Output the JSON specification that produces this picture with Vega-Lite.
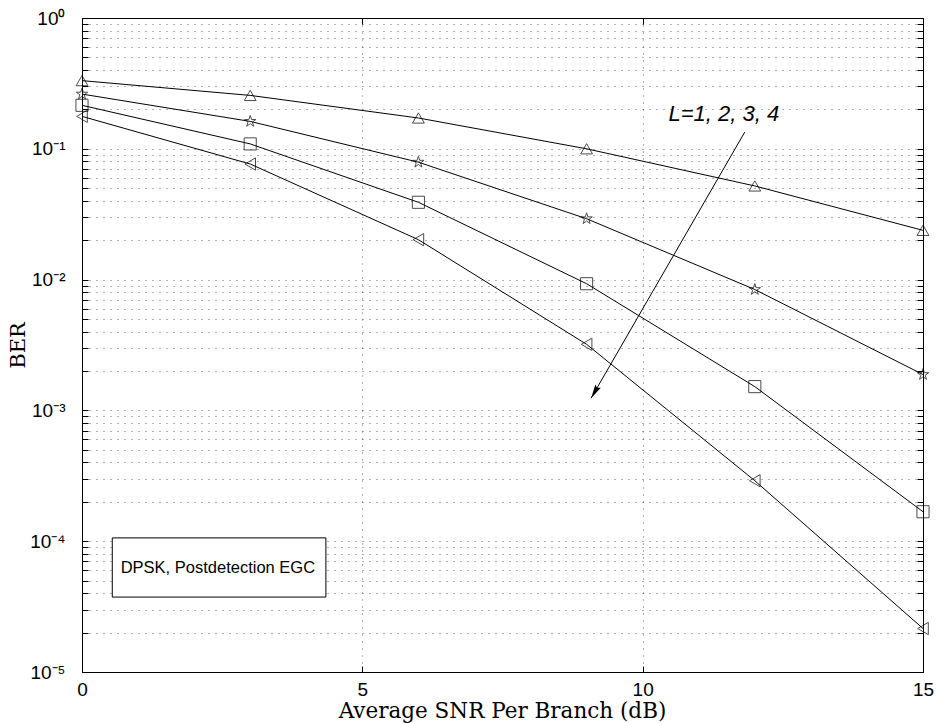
{
  "$schema": "https://vega.github.io/schema/vega-lite/v6.json",
  "width": 841,
  "height": 654,
  "autosize": {"type": "none"},
  "padding": {"left": 82, "top": 18, "right": 14, "bottom": 51},
  "background": "white",
  "config": {
    "view": {"stroke": "black", "strokeWidth": 1},
    "axis": {
      "domain": false,
      "labelFont": "Liberation Sans",
      "labelFontSize": 19,
      "labelColor": "black",
      "titleFont": "DejaVu Serif",
      "titleFontSize": 21,
      "titleFontWeight": "normal",
      "titleColor": "black",
      "tickColor": "black",
      "tickSize": -6,
      "labelFlush": false,
      "labelOverlap": false,
      "gridColor": "#000000",
      "gridOpacity": 0.6,
      "gridDash": [1, 6],
      "gridWidth": 1
    }
  },
  "datasets": {
    "ber": [
      {"L": "1", "snr": 0, "ber": 0.332},
      {"L": "1", "snr": 3, "ber": 0.256},
      {"L": "1", "snr": 6, "ber": 0.172},
      {"L": "1", "snr": 9, "ber": 0.100},
      {"L": "1", "snr": 12, "ber": 0.052},
      {"L": "1", "snr": 15, "ber": 0.0238},
      {"L": "2", "snr": 0, "ber": 0.262},
      {"L": "2", "snr": 3, "ber": 0.162},
      {"L": "2", "snr": 6, "ber": 0.079},
      {"L": "2", "snr": 9, "ber": 0.0292},
      {"L": "2", "snr": 12, "ber": 0.0084},
      {"L": "2", "snr": 15, "ber": 0.00188},
      {"L": "3", "snr": 0, "ber": 0.215},
      {"L": "3", "snr": 3, "ber": 0.109},
      {"L": "3", "snr": 6, "ber": 0.039},
      {"L": "3", "snr": 9, "ber": 0.0093},
      {"L": "3", "snr": 12, "ber": 0.00152},
      {"L": "3", "snr": 15, "ber": 0.000168},
      {"L": "4", "snr": 0, "ber": 0.177},
      {"L": "4", "snr": 3, "ber": 0.0765},
      {"L": "4", "snr": 6, "ber": 0.0202},
      {"L": "4", "snr": 9, "ber": 0.0032},
      {"L": "4", "snr": 12, "ber": 0.00029},
      {"L": "4", "snr": 15, "ber": 0.0000215}
    ],
    "arrow": [{"x": 11.82, "y": 0.134, "x2": 9.08, "y2": 0.00124}],
    "tip": [{"x": 9.08, "y": 0.00124}],
    "box": [{"x": 0.54, "x2": 4.35, "y": 0.000106, "y2": 0.0000374}],
    "boxtext": [{"x": 0.69, "y": 0.0000629, "text": "DPSK, Postdetection EGC"}],
    "ltext": [{"x": 10.46, "y": 0.163, "text": "L=1, 2, 3, 4"}]
  },
  "layer": [
    {
      "data": {"name": "ber"},
      "mark": {"type": "line", "color": "black", "strokeWidth": 1},
      "encoding": {
        "x": {
          "field": "snr", "type": "quantitative",
          "scale": {"domain": [0, 15], "nice": false, "zero": false},
          "axis": {
            "orient": "bottom",
            "values": [0, 5, 10, 15],
            "grid": true,
            "labelPadding": 14,
            "title": "Average SNR Per Branch (dB)",
            "titleFontSize": 21.5,
            "titleX": 420,
            "titleY": 45,
            "titleAlign": "center",
            "titleBaseline": "alphabetic"
          }
        },
        "y": {
          "field": "ber", "type": "quantitative",
          "scale": {"type": "log", "domain": [0.00001, 1], "nice": false},
          "axis": {
            "orient": "left",
            "values": [0.00001, 0.00002, 0.00003, 0.00004, 0.00005, 0.00006, 0.00007, 0.00008, 0.00009,
                       0.0001, 0.0002, 0.0003, 0.0004, 0.0005, 0.0006, 0.0007, 0.0008, 0.0009,
                       0.001, 0.002, 0.003, 0.004, 0.005, 0.006, 0.007, 0.008, 0.009,
                       0.01, 0.02, 0.03, 0.04, 0.05, 0.06, 0.07, 0.08, 0.09,
                       0.1, 0.2, 0.3, 0.4, 0.5, 0.6, 0.7, 0.8, 0.9, 1],
            "labelExpr": "datum.value == 1 ? '10⁰' : datum.value == 0.1 ? '10⁻¹' : datum.value == 0.01 ? '10⁻²' : datum.value == 0.001 ? '10⁻³' : datum.value == 0.0001 ? '10⁻⁴' : datum.value == 0.00001 ? '10⁻⁵' : ''",
            "grid": true,
            "labelPadding": 23,
            "title": "BER",
            "titleAngle": -90,
            "titleX": -64,
            "titleY": 327,
            "titleAlign": "center",
            "titleBaseline": "middle"
          }
        },
        "detail": {"field": "L"}
      }
    },
    {
      "data": {"name": "ber"},
      "mark": {"type": "point", "filled": false, "color": "black", "strokeWidth": 1},
      "encoding": {
        "x": {
          "field": "snr", "type": "quantitative",
          "scale": {"domain": [0, 15], "nice": false, "zero": false},
          "axis": {"orient": "top", "values": [0, 5, 10, 15], "labels": false, "title": null, "grid": false}
        },
        "y": {
          "field": "ber", "type": "quantitative",
          "scale": {"type": "log", "domain": [0.00001, 1], "nice": false},
          "axis": {
            "orient": "right", "labels": false, "title": null, "grid": false,
            "values": [0.00001, 0.00002, 0.00003, 0.00004, 0.00005, 0.00006, 0.00007, 0.00008, 0.00009,
                       0.0001, 0.0002, 0.0003, 0.0004, 0.0005, 0.0006, 0.0007, 0.0008, 0.0009,
                       0.001, 0.002, 0.003, 0.004, 0.005, 0.006, 0.007, 0.008, 0.009,
                       0.01, 0.02, 0.03, 0.04, 0.05, 0.06, 0.07, 0.08, 0.09,
                       0.1, 0.2, 0.3, 0.4, 0.5, 0.6, 0.7, 0.8, 0.9, 1]
          }
        },
        "shape": {
          "field": "L", "type": "nominal",
          "scale": {
            "domain": ["1", "2", "3", "4"],
            "range": [
              "triangle-up",
              "M0,-1L0.223,-0.307L0.951,-0.309L0.361,0.117L0.588,0.809L0,0.38L-0.588,0.809L-0.361,0.117L-0.951,-0.309L-0.223,-0.307Z",
              "square",
              "triangle-left"
            ]
          },
          "legend": null
        },
        "size": {
          "field": "L", "type": "nominal",
          "scale": {"domain": ["1", "2", "3", "4"], "range": [140, 150, 64, 140]},
          "legend": null
        }
      }
    },
    {
      "data": {"name": "box"},
      "mark": {"type": "rect", "fill": "white", "stroke": "black", "strokeWidth": 1},
      "encoding": {
        "x": {"field": "x", "type": "quantitative", "scale": {"domain": [0, 15], "nice": false, "zero": false}, "axis": null},
        "x2": {"field": "x2"},
        "y": {"field": "y", "type": "quantitative", "scale": {"type": "log", "domain": [0.00001, 1], "nice": false}, "axis": null},
        "y2": {"field": "y2"}
      }
    },
    {
      "data": {"name": "boxtext"},
      "mark": {"type": "text", "font": "Liberation Sans", "fontSize": 16.5, "align": "left", "baseline": "middle", "color": "black"},
      "encoding": {
        "x": {"field": "x", "type": "quantitative", "scale": {"domain": [0, 15], "nice": false, "zero": false}, "axis": null},
        "y": {"field": "y", "type": "quantitative", "scale": {"type": "log", "domain": [0.00001, 1], "nice": false}, "axis": null},
        "text": {"field": "text"}
      }
    },
    {
      "data": {"name": "arrow"},
      "mark": {"type": "rule", "color": "black", "strokeWidth": 1},
      "encoding": {
        "x": {"field": "x", "type": "quantitative", "scale": {"domain": [0, 15], "nice": false, "zero": false}, "axis": null},
        "x2": {"field": "x2"},
        "y": {"field": "y", "type": "quantitative", "scale": {"type": "log", "domain": [0.00001, 1], "nice": false}, "axis": null},
        "y2": {"field": "y2"}
      }
    },
    {
      "data": {"name": "tip"},
      "mark": {"type": "point", "shape": "M0,0L-0.45,2L0,1.7L0.45,2Z", "size": 196, "angle": 210, "filled": true, "color": "black", "opacity": 1},
      "encoding": {
        "x": {"field": "x", "type": "quantitative", "scale": {"domain": [0, 15], "nice": false, "zero": false}, "axis": null},
        "y": {"field": "y", "type": "quantitative", "scale": {"type": "log", "domain": [0.00001, 1], "nice": false}, "axis": null}
      }
    },
    {
      "data": {"name": "ltext"},
      "mark": {"type": "text", "font": "Liberation Sans", "fontSize": 22, "fontStyle": "italic", "align": "left", "baseline": "alphabetic", "color": "black"},
      "encoding": {
        "x": {"field": "x", "type": "quantitative", "scale": {"domain": [0, 15], "nice": false, "zero": false}, "axis": null},
        "y": {"field": "y", "type": "quantitative", "scale": {"type": "log", "domain": [0.00001, 1], "nice": false}, "axis": null},
        "text": {"field": "text"}
      }
    }
  ],
  "resolve": {"axis": {"x": "independent", "y": "independent"}}
}
